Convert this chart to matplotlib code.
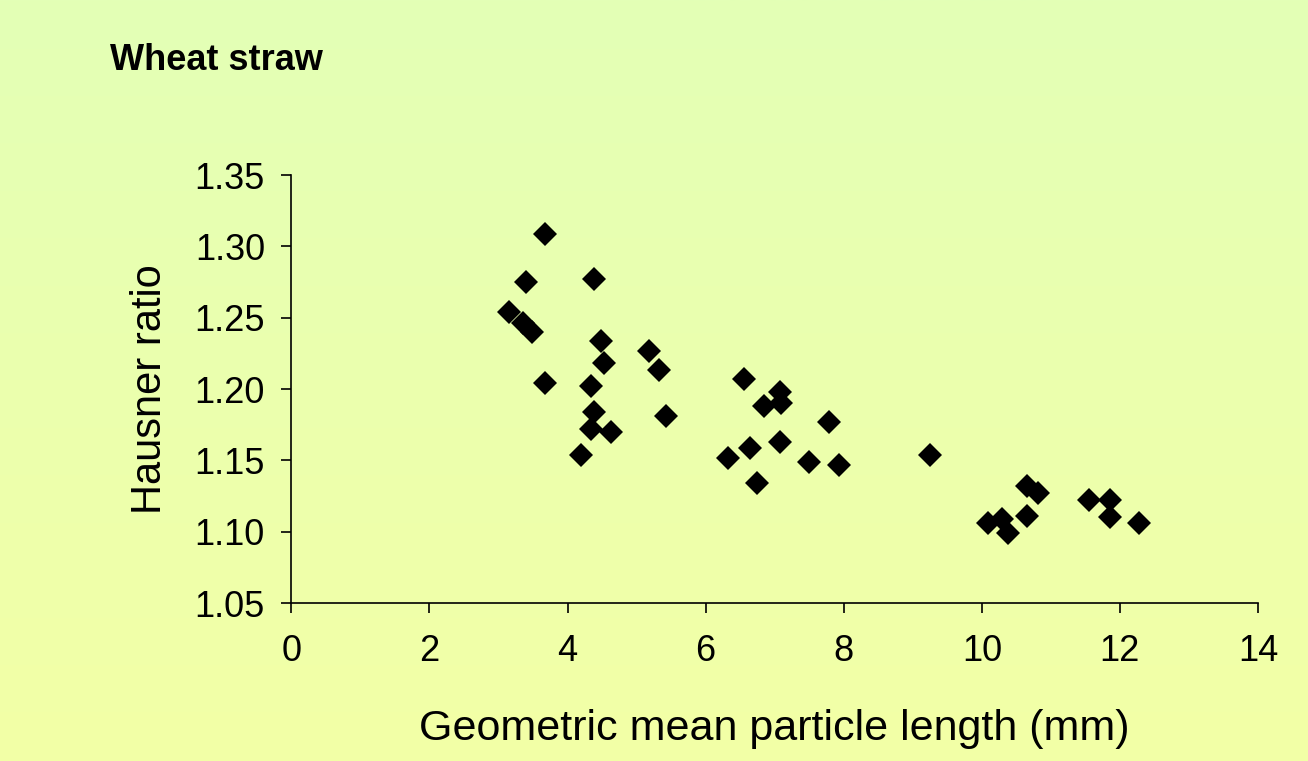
import numpy as np
import matplotlib
matplotlib.use("Agg")
import matplotlib.pyplot as plt
from matplotlib.colors import LinearSegmentedColormap

# Datos
particle_length = [3.68, 3.40, 4.39, 3.16, 3.35, 3.49, 4.48, 4.53, 3.68, 4.34,
                   4.39, 4.34, 4.63, 4.20, 5.18, 5.33, 5.43, 6.56, 7.08, 7.09,
                   6.84, 7.79, 7.08, 6.65, 6.32, 6.74, 7.50, 7.93, 9.25, 10.66,
                   10.81, 10.66, 10.09, 10.29, 10.38, 11.55, 11.85, 11.85, 12.27]
hausner_ratio = [1.309, 1.275, 1.277, 1.254, 1.246, 1.240, 1.234, 1.218, 1.204, 1.202,
                 1.184, 1.172, 1.170, 1.154, 1.227, 1.213, 1.181, 1.207, 1.198, 1.190,
                 1.188, 1.177, 1.163, 1.159, 1.152, 1.134, 1.149, 1.147, 1.154, 1.132,
                 1.127, 1.111, 1.106, 1.109, 1.099, 1.122, 1.122, 1.110, 1.106]
x_ticks = [0, 2, 4, 6, 8, 10, 12, 14]
y_ticks = [1.05, 1.10, 1.15, 1.20, 1.25, 1.30, 1.35]

plt.rcParams['font.family'] = ['Liberation Sans', 'DejaVu Sans']

fig = plt.figure(figsize=(13.08, 7.61), dpi=100)

# Fondo degradado (verde claro arriba, amarillo abajo)
bg = fig.add_axes([0, 0, 1, 1], zorder=-10)
cmap = LinearSegmentedColormap.from_list('bg', ['#E3FFB6', '#F3FFA6'])
bg.imshow(np.linspace(0, 1, 256).reshape(-1, 1), aspect='auto', cmap=cmap,
          extent=[0, 1, 0, 1], origin='upper')
bg.axis('off')

ax = fig.add_axes([0.2227, 0.2076, 0.7391, 0.5624])
ax.patch.set_alpha(0)

ax.plot(particle_length, hausner_ratio, linestyle='none', marker='D',
        markersize=12, color='black', markeredgewidth=0)

ax.set_xlim(0, 14)
ax.set_ylim(1.05, 1.35)
ax.set_xticks(x_ticks)
ax.set_yticks(y_ticks)
ax.set_xticklabels([str(v) for v in x_ticks])
ax.set_yticklabels([f"{v:.2f}" for v in y_ticks])

for side in ['top', 'right']:
    ax.spines[side].set_visible(False)
for side in ['left', 'bottom']:
    ax.spines[side].set_linewidth(1.2)
ax.tick_params(direction='out', length=7, width=1.2, labelsize=26)
ax.tick_params(axis='x', pad=15)
ax.tick_params(axis='y', pad=12)

ax.set_xlabel('Geometric mean particle length (mm)', fontsize=31)
ax.xaxis.set_label_coords(0.5, -0.294)
ax.xaxis.label.set_verticalalignment('center')
ax.set_ylabel('Hausner ratio', fontsize=30)
ax.yaxis.set_label_coords(-0.146, 0.5)
ax.yaxis.label.set_verticalalignment('center')

fig.text(0.084, 0.921, 'Wheat straw', fontsize=26, fontweight='bold',
         va='center', ha='left')

fig.savefig('out.png', dpi=100)
